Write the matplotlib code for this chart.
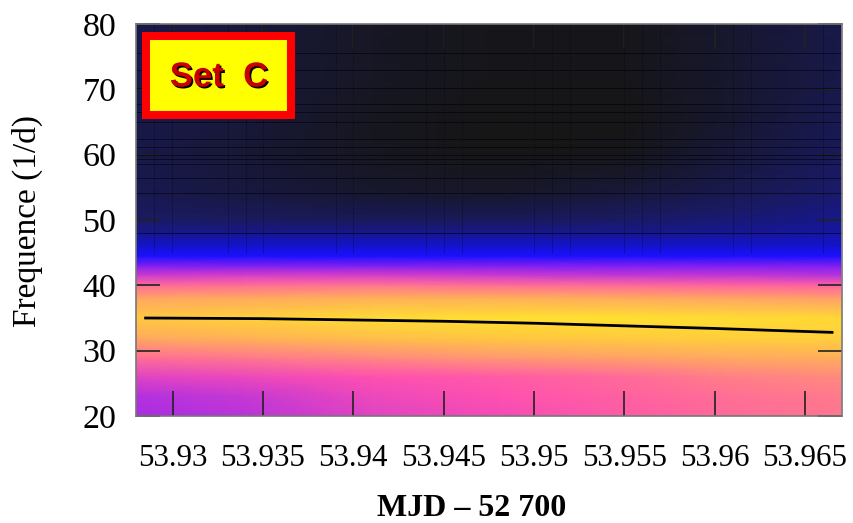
import numpy as np
import matplotlib
matplotlib.use("Agg")
import matplotlib.pyplot as plt
import matplotlib.patheffects as pe
from matplotlib.colors import LinearSegmentedColormap
from matplotlib.patches import Rectangle

plt.rcParams["font.family"] = ["Liberation Serif", "DejaVu Serif"]

# columns of the power map (MJD - 52700) and rows (1/d)
mjd = [53.928, 53.934, 53.941, 53.948, 53.955, 53.961, 53.967]
freq = [20, 23, 26, 29, 32, 35, 38, 40, 41.5, 43, 44.5, 46, 48, 50, 54, 60, 66, 72, 80]

# colour level, row by row
power = [
    [0.49, 0.51, 0.55, 0.57, 0.60, 0.63, 0.65],
    [0.50, 0.52, 0.56, 0.58, 0.61, 0.64, 0.66],
    [0.55, 0.56, 0.58, 0.60, 0.63, 0.67, 0.69],
    [0.64, 0.66, 0.69, 0.72, 0.75, 0.78, 0.79],
    [0.78, 0.81, 0.85, 0.88, 0.90, 0.92, 0.92],
    [0.88, 0.92, 0.97, 1.00, 1.00, 0.98, 0.96],
    [0.76, 0.78, 0.80, 0.80, 0.78, 0.76, 0.74],
    [0.63, 0.64, 0.65, 0.64, 0.63, 0.62, 0.61],
    [0.53, 0.54, 0.54, 0.53, 0.52, 0.52, 0.51],
    [0.43, 0.43, 0.43, 0.43, 0.43, 0.43, 0.43],
    [0.35, 0.35, 0.35, 0.35, 0.35, 0.35, 0.35],
    [0.28, 0.28, 0.28, 0.28, 0.28, 0.28, 0.28],
    [0.20, 0.20, 0.20, 0.20, 0.20, 0.21, 0.23],
    [0.15, 0.14, 0.13, 0.13, 0.15, 0.17, 0.20],
    [0.11, 0.08, 0.05, 0.04, 0.07, 0.11, 0.16],
    [0.10, 0.06, 0.02, 0.00, 0.01, 0.07, 0.13],
    [0.10, 0.07, 0.02, 0.00, 0.00, 0.05, 0.11],
    [0.10, 0.07, 0.03, 0.01, 0.01, 0.05, 0.10],
    [0.10, 0.07, 0.03, 0.01, 0.01, 0.05, 0.10],
]

# ridge of the main pulsation
ridge_t = [53.9285, 53.935, 53.94, 53.945, 53.95, 53.955, 53.96, 53.9665]
ridge_f = [35.0, 34.9, 34.7, 34.5, 34.2, 33.8, 33.4, 32.8]

# thin dark seams of the map
seam_f = [75.6, 73.0, 70.2, 67.8, 66.5, 65.0, 62.4, 61.2, 59.9, 59.3, 58.6, 56.4, 54.1, 48.0]
seam_t = [53.92896, 53.92996, 53.93306, 53.93406, 53.935, 53.93904, 53.93998, 53.94402,
          53.94502, 53.94602, 53.95, 53.951, 53.952, 53.955, 53.956, 53.957, 53.961,
          53.962, 53.966]

xticks = [53.93, 53.935, 53.94, 53.945, 53.95, 53.955, 53.96, 53.965]
xlabels = ["53.93", "53.935", "53.94", "53.945", "53.95", "53.955", "53.96", "53.965"]
yticks = [20, 30, 40, 50, 60, 70, 80]

cmap = LinearSegmentedColormap.from_list("pulse", [
    (0.00, "#161616"), (0.15, "#1a1a66"), (0.34, "#1010ff"), (0.44, "#8a20f0"),
    (0.50, "#b030e0"), (0.58, "#ff50b0"), (0.72, "#ff9a70"), (0.88, "#ffc840"),
    (1.00, "#ffe030")])

fig = plt.figure(figsize=(8.54, 5.23), dpi=100)
ax = fig.add_axes([136/854, 1-416/523, 706/854, 392/523])
ax.pcolormesh(mjd, freq, power, cmap=cmap, vmin=0, vmax=1, shading="gouraud", rasterized=True)
ax.hlines(seam_f, 53.92797, 53.96705, color="#000010", lw=0.7, alpha=0.6)
ax.vlines(seam_t, 45, 80, color="#000010", lw=0.7, alpha=0.35, linestyles=(0, (2, 1)))
ax.plot(ridge_t, ridge_f, color="k", lw=2)

ax.set_xlim(53.92797, 53.96705)
ax.set_ylim(20, 80)
ax.set_xticks(xticks, xlabels)
ax.set_yticks(yticks)
ax.tick_params(axis="x", direction="in", length=18, width=1.2, color="#222222",
               top=True, labelsize=22.3, pad=20)
ax.tick_params(axis="y", direction="in", length=17, width=1.2, color="#222222",
               right=True, labelsize=24.5, pad=14)
for s in ax.spines.values():
    s.set_color("#777777")
    s.set_linewidth(1.2)

fig.text(472/854, 1-508/523, "MJD – 52 700", fontsize=23, fontweight="bold",
         ha="center", va="center")
fig.text(27/854, 1-221/523, "Frequence (1/d)", fontsize=24, rotation=90,
         ha="center", va="center")

fig.add_artist(Rectangle((146/854, 1-115/523), 145/854, 79/523, transform=fig.transFigure,
                         facecolor="#ffff00", edgecolor="#ff0000", linewidth=5.8, zorder=5))
fig.text(219/854, 1-77/523, "Set  C", family="Liberation Sans", fontweight="bold", fontsize=25,
         color="#c80000", ha="center", va="center", zorder=6,
         path_effects=[pe.withSimplePatchShadow(offset=(1.2, -1.2), shadow_rgbFace="k", alpha=1)])

fig.savefig("out.png", dpi=100)
